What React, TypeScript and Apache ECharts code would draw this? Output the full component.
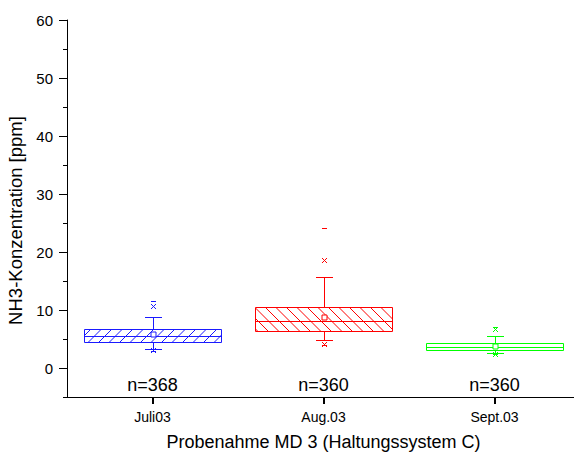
import React, { useEffect, useRef } from 'react';
import * as echarts from 'echarts';

const categories = ['Juli03', 'Aug.03', 'Sept.03'];
const minValues = [3.0, 4.0, 2.4];
const p1Values = [3.1, 4.1, 2.5];
const whiskerLowValues = [3.2, 4.8, 2.65];
const q1Values = [4.4, 6.4, 3.05];
const medianValues = [5.6, 8.1, 3.6];
const q3Values = [6.7, 10.6, 4.25];
const whiskerHighValues = [8.8, 15.7, 5.5];
const p99Values = [10.7, 18.6, 6.7];
const maxValues = [11.6, 24.1, 7.1];
const meanValues = [5.8, 8.8, 3.8];
const sampleCounts = [368, 360, 360];

const yTickLabels = [0, 10, 20, 30, 40, 50, 60];
const yMajorTicks = [0, 10, 20, 30, 40, 50, 60];
const yMinorTicks = [-5, 5, 15, 25, 35, 45, 55];
const Y_MIN = -5;
const Y_MAX = 60;

const seriesColors = ['#1a1aff', '#ff0000', '#00ff00'];
const hatchKinds = ['forward', 'backward', 'none'];
const FONT = "'Liberation Sans', Arial, sans-serif";

const SegmentsShape = echarts.graphic.extendShape({
  shape: { segs: [] as number[][] },
  buildPath(ctx: any, shape: any) {
    const segs = shape.segs || [];
    for (let j = 0; j < segs.length; j++) {
      const s = segs[j];
      ctx.moveTo(s[0], s[1]);
      ctx.lineTo(s[2], s[3]);
    }
  },
});
echarts.graphic.registerShape('segments', SegmentsShape);

function renderBox(params: any, api: any) {
  const i = api.value(0);
  const color = seriesColors[i];
  const cxRaw = api.coord([i, 0])[0];
  const cx = Math.round(cxRaw) + 0.5;
  const band = api.size([1, 0])[0];
  const half = band * 0.4;
  const x0 = Math.round(cxRaw - half) + 0.5;
  const x1 = Math.round(cxRaw + half) + 0.5;
  const Y = (v: number) => Math.round(api.coord([i, v])[1]) + 0.5;
  const vMin = api.value(1), vP1 = api.value(2), vWL = api.value(3), vQ1 = api.value(4);
  const vMed = api.value(5), vQ3 = api.value(6), vWH = api.value(7), vP99 = api.value(8);
  const vMax = api.value(9), vMean = api.value(10), n = api.value(11);
  const yt = Y(vQ3), yb = Y(vQ1);
  const hatch: number[][] = [];
  const marks: number[][] = [];
  const s = 10.5;
  const kind = hatchKinds[i];
  if (kind === 'forward') {
    const cStart = Math.ceil((x0 + yt) / s) * s;
    for (let c = cStart; c <= x1 + yb; c += s) {
      const xa = Math.max(x0, c - yb);
      const xb = Math.min(x1, c - yt);
      if (xb > xa) hatch.push([xa, c - xa, xb, c - xb]);
    }
  } else if (kind === 'backward') {
    const cStart = Math.ceil((x0 - yb) / s) * s;
    for (let c = cStart; c <= x1 - yt; c += s) {
      const xa = Math.max(x0, c + yt);
      const xb = Math.min(x1, c + yb);
      if (xb > xa) hatch.push([xa, xa - c, xb, xb - c]);
    }
  }
  const ym = Y(vMed);
  marks.push([x0, ym, x1, ym]);
  const ywh = Y(vWH), ywl = Y(vWL);
  marks.push([cx, yt, cx, ywh], [cx, yb, cx, ywl]);
  marks.push([cx - 8.5, ywh, cx + 8.5, ywh], [cx - 8.5, ywl, cx + 8.5, ywl]);
  [vP1, vP99].forEach((v) => {
    const y = Y(v);
    marks.push([cx - 2.5, y - 2.5, cx + 2.5, y + 2.5], [cx - 2.5, y + 2.5, cx + 2.5, y - 2.5]);
  });
  [vMin, vMax].forEach((v) => {
    const y = Y(v);
    marks.push([cx - 2.5, y, cx + 2.5, y]);
  });
  const yMean = Y(vMean);
  const yAxisBottom = Math.round(api.coord([i, Y_MIN])[1]);
  return {
    type: 'group',
    children: [
      {
        type: 'segments',
        shape: { segs: hatch },
        style: { stroke: color, lineWidth: 1, fill: 'none' },
      },
      {
        type: 'rect',
        shape: { x: x0, y: yt, width: x1 - x0, height: yb - yt },
        style: { stroke: color, lineWidth: 1, fill: 'none' },
      },
      {
        type: 'segments',
        shape: { segs: marks },
        style: { stroke: color, lineWidth: 1, fill: 'none' },
      },
      {
        type: 'rect',
        shape: { x: cx - 2.5, y: yMean - 2.5, width: 5, height: 5 },
        style: { stroke: color, lineWidth: 1, fill: '#ffffff' },
      },
      {
        type: 'rect',
        shape: { x: Math.round(cxRaw), y: yAxisBottom, width: 1, height: 7 },
        style: { fill: '#000000', stroke: 'none' },
      },
      {
        type: 'text',
        x: cxRaw,
        y: api.coord([i, -2.9])[1],
        style: {
          text: 'n=' + n,
          fill: '#000',
          fontSize: 18,
          fontFamily: FONT,
          align: 'center',
          verticalAlign: 'middle',
        },
      },
    ],
  };
}

export default function App() {
  const ref = useRef<HTMLDivElement>(null);
  useEffect(() => {
    if (!ref.current) return;
    const chart = echarts.init(ref.current, null, { renderer: 'svg' });
    const data = categories.map((_, i) => [
      i,
      minValues[i],
      p1Values[i],
      whiskerLowValues[i],
      q1Values[i],
      medianValues[i],
      q3Values[i],
      whiskerHighValues[i],
      p99Values[i],
      maxValues[i],
      meanValues[i],
      sampleCounts[i],
    ]);
    chart.setOption({
      animation: false,
      backgroundColor: '#ffffff',
      grid: { left: 67, right: -6, top: 20, bottom: 57, containLabel: false, outerBoundsMode: 'none' },
      xAxis: {
        type: 'category',
        data: categories,
        boundaryGap: true,
        name: 'Probenahme MD 3 (Haltungssystem C)',
        nameLocation: 'middle',
        nameGap: 36,
        nameTextStyle: { fontSize: 18, fontFamily: FONT, color: '#000' },
        axisLine: { show: true, onZero: false, lineStyle: { color: '#000', width: 1 } },
        axisTick: { show: true, alignWithLabel: true, interval: 0, inside: false, length: 7, lineStyle: { color: '#000', width: 1 } },
        axisLabel: { fontSize: 14, fontFamily: FONT, color: '#000', margin: 13, interval: 0 },
        splitLine: { show: false },
      },
      yAxis: [
        {
          type: 'value',
          min: Y_MIN,
          max: Y_MAX,
          position: 'left',
          name: 'NH3-Konzentration [ppm]',
          nameLocation: 'middle',
          nameGap: 39,
          nameTextStyle: { fontSize: 18.5, fontFamily: FONT, color: '#000', padding: [0, 24, 0, 0] },
          axisLine: { show: true, onZero: false, lineStyle: { color: '#000', width: 1 } },
          axisTick: { show: true, length: 8, customValues: yMajorTicks, lineStyle: { color: '#000' } },
          axisLabel: { fontSize: 15, fontFamily: FONT, color: '#000', margin: 14, customValues: yTickLabels },
          splitLine: { show: false },
        },
        {
          type: 'value',
          min: Y_MIN,
          max: Y_MAX,
          position: 'left',
          axisLine: { show: false, onZero: false },
          axisTick: { show: true, length: 4, customValues: yMinorTicks, lineStyle: { color: '#000' } },
          axisLabel: { show: false },
          splitLine: { show: false },
        },
      ],
      series: [
        {
          type: 'custom',
          renderItem: renderBox,
          data,
          encode: { x: 0, y: [1, 2, 3, 4, 5, 6, 7, 8, 9, 10] },
          clip: false,
          silent: true,
        },
      ],
    });
    return () => chart.dispose();
  }, []);
  return (
    <div
      ref={ref}
      style={{ position: 'fixed', left: 0, top: 0, width: 574, height: 454, background: '#fff' }}
    />
  );
}
